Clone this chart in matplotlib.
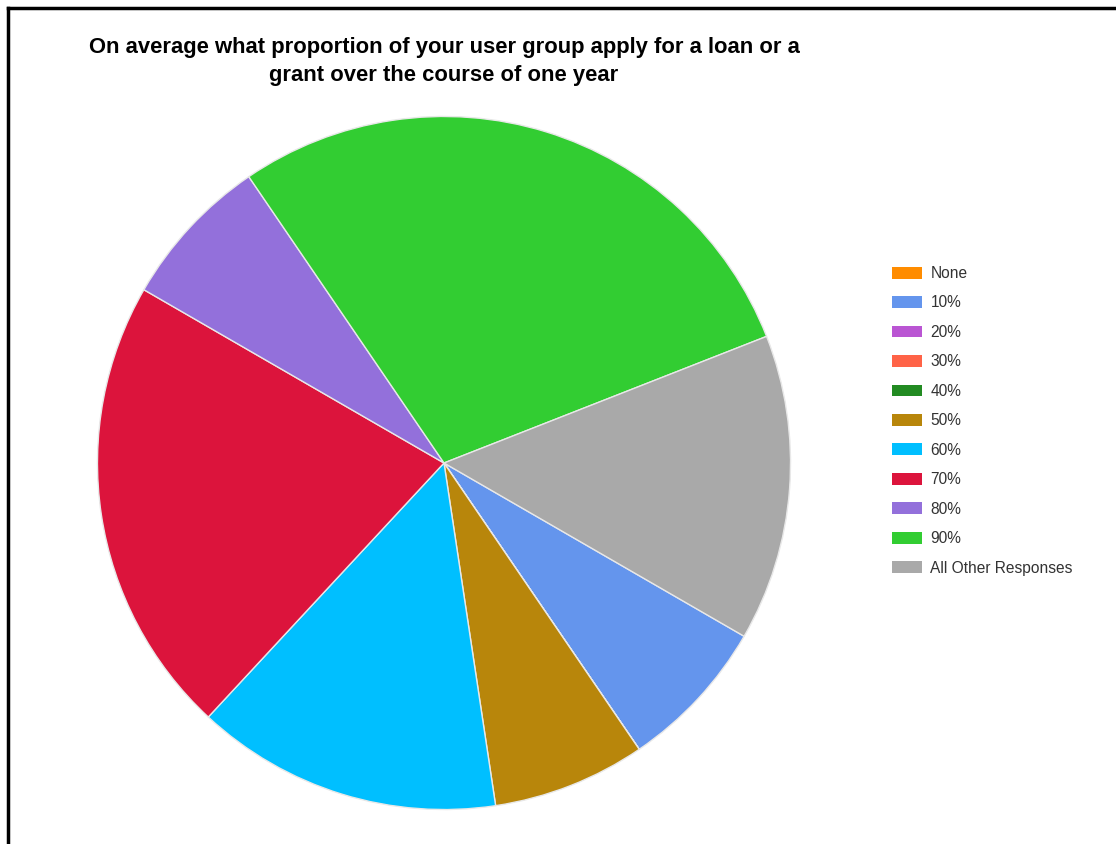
import matplotlib.pyplot as plt
from matplotlib.patches import Patch
from matplotlib.lines import Line2D

plt.rcParams['font.family'] = ['Liberation Sans', 'DejaVu Sans']

title = 'On average what proportion of your user group apply for a loan or a\ngrant over the course of one year'
labels = ['None', '10%', '20%', '30%', '40%', '50%', '60%', '70%', '80%', '90%',
          'All Other Responses']
counts = [0, 1, 0, 0, 0, 1, 2, 3, 1, 4, 2]
colors = ['#FF8C00', '#6495ED', '#BA55D3', '#FF6347', '#228B22', '#B8860B',
          '#00BFFF', '#DC143C', '#9370DB', '#32CD32', '#A9A9A9']

W, H = 1116, 844
fig = plt.figure(figsize=(W / 100, H / 100), dpi=100)

# pie axes: centre (444, 463) px, radius 350 px
cx, cy, r = 444, 463, 350
ax = fig.add_axes([(cx - r) / W, (H - cy - r) / H, 2 * r / W, 2 * r / H])
ax.pie(counts, colors=colors, startangle=-30, counterclock=False, radius=1,
       wedgeprops=dict(edgecolor='#e8e8e8', linewidth=1))
ax.set_xlim(-1.01, 1.01)
ax.set_ylim(-1.01, 1.01)
ax.set_aspect('equal')
ax.axis('off')

fig.text(444 / W, 1 - 37 / H, title, ha='center', va='top',
         fontsize=15.8, fontweight='bold', linespacing=1.45)

handles = [Patch(facecolor=c, edgecolor='none') for c in colors]
fig.legend(handles, labels, loc='upper left',
           bbox_to_anchor=(892 / W, 1 - 266 / H), frameon=False,
           fontsize=11.2, handlelength=1.92, handleheight=0.8,
           handletextpad=0.55, labelspacing=0.93, borderpad=0, borderaxespad=0,
           labelcolor='#333333')

# black frame on the top and left edges
fig.add_artist(Line2D([8 / W, 1], [1 - 7.5 / H, 1 - 7.5 / H], color='black', linewidth=2.5,
                      transform=fig.transFigure))
fig.add_artist(Line2D([8 / W, 8 / W], [0, 1 - 7.5 / H], color='black', linewidth=2.5,
                      transform=fig.transFigure))

fig.savefig('out.png', dpi=100)
